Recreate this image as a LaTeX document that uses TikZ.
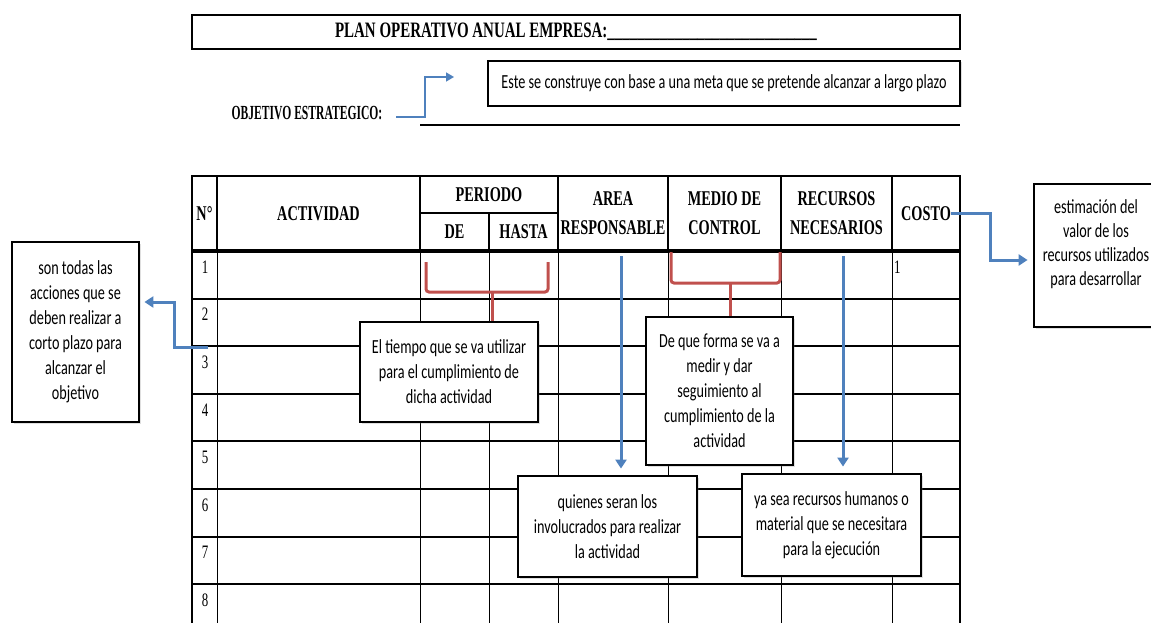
\documentclass[tikz,border=0pt]{standalone}
\usepackage{fontspec}
\newfontfamily\boxfont[FakeStretch=0.71]{Carlito}
\newfontfamily\tabfont[FakeStretch=0.68]{Liberation Serif}
\newfontfamily\objfont[FakeStretch=0.58]{Liberation Serif}
\usetikzlibrary{arrows,arrows.meta,shadows,calc}

\definecolor{noteblue}{RGB}{79,129,189}
\definecolor{bracered}{RGB}{192,80,77}

\tikzset{
  notebox/.style={draw, line width=2.8pt, fill=white, align=center, inner sep=0pt,
    font=\boxfont\fontsize{20}{25}\selectfont,
    drop shadow={opacity=0.25, shadow xshift=1.5pt, shadow yshift=-1.5pt}},
  headtext/.style={font=\tabfont\bfseries\fontsize{21}{29}\selectfont, align=center, inner sep=0pt},
  numtext/.style={font=\tabfont\fontsize{19}{22}\selectfont, inner sep=0pt},
  notearrow/.style={-{Triangle[length=9pt,width=11pt]}, draw=noteblue, line width=3pt},
  bracket/.style={draw=bracered, line width=3pt, rounded corners=3pt},
}

\begin{document}
\begin{tikzpicture}[x=1pt,y=-1pt]
\useasboundingbox (0,0) rectangle (1151,623);
\clip (0,0) rectangle (1151,623);
%
% title and objective
\node[draw, line width=2.8pt, minimum width=768pt, minimum height=34pt, inner sep=0pt,
      font=\tabfont\bfseries\fontsize{22}{24}\selectfont] (title) at (576,32)
      {PLAN OPERATIVO ANUAL EMPRESA:\_\_\_\_\_\_\_\_\_\_\_\_\_\_\_\_\_\_\_\_\_\_\_\_\_\_\_\_};
\node[font=\objfont\bfseries\fontsize{20}{22}\selectfont, inner sep=0pt] (objlabel) at (307,113) {OBJETIVO ESTRATEGICO:};
\draw[line width=1.8pt] (420,125) -- (960,125);
\node[notebox, minimum width=472pt, minimum height=45pt] (meta) at (724,83.5)
      {Este se construye con base a una meta que se pretende alcanzar a largo plazo};
% objective arrow
\coordinate (objstart) at (396,117);
\coordinate (objtip) at (454,77);
\draw[notearrow, line width=1.6pt, -{Triangle[length=8pt,width=9pt]}] (objstart) -- ++(29,0) |- (objtip);
%
% table frame
\draw[line width=2.8pt] (192,176) rectangle (960,640);
% header lines
\foreach \x in {217,420,558,668,781,892}
   \draw[line width=1.6pt] (\x,176) -- (\x,251);
\draw[line width=1.6pt] (420,213) -- (558,213);
\draw[line width=1.6pt] (489,213) -- (489,251);
\draw[line width=3.4pt] (192,251) -- (960,251);
% body lines
\foreach \x in {217,420,489,558,668,781,892}
   \draw[line width=1pt] (\x,251) -- (\x,640);
\foreach \i in {1,...,8}{
   \draw[line width=2pt] (192,{251+47.6*\i}) -- (960,{251+47.6*\i});
   \node[numtext] (num\i) at (205,{267+47.6*(\i-1)}) {\i};
}
\node[numtext, anchor=west] (numcosto) at (894,267) {1};
% header texts
\node[headtext] (hdrnum)   at (204.5,213.5) {N°};
\node[headtext] (hdract)   at (318.5,213.5) {ACTIVIDAD};
\node[headtext] (hdrper)   at (489,194.5)   {PERIODO};
\node[headtext] (hdrde)    at (454.5,232)   {DE};
\node[headtext] (hdrhasta) at (523.5,232)   {HASTA};
\node[headtext] (hdrarea)  at (613,213.5)   {AREA\\RESPONSABLE};
\node[headtext] (hdrmedio) at (724.5,213.5) {MEDIO DE\\CONTROL};
\node[headtext] (hdrrec)   at (836.5,213.5) {RECURSOS\\NECESARIOS};
\node[headtext] (hdrcosto) at (926,213.5)   {COSTO};
%
% brackets
\coordinate (permid) at (492,292);
\draw[bracket] (426,262) |- (548,292) -- (548,262);
\coordinate (medmid) at (730,283);
\draw[bracket] (671,252) |- (780,283) -- (780,252);
% arrow starts
\coordinate (areatop) at (621,256);
\coordinate (rectop) at (843,256);
\coordinate (actstart) at (208,347);
%
% note boxes
\node[notebox, minimum width=178pt, minimum height=100pt] (tiempobox) at (449,372)
      {El tiempo que se va utilizar\\para el cumplimiento de\\dicha actividad};
\node[notebox, minimum width=147pt, minimum height=148pt] (formabox) at (719.5,391)
      {De que forma se va a\\medir y dar\\seguimiento al\\cumplimiento de la\\actividad};
\node[notebox, minimum width=179pt, minimum height=101pt] (quienesbox) at (607.5,526.5)
      {quienes seran los\\involucrados para realizar\\la actividad};
\node[notebox, minimum width=179pt, minimum height=102pt] (recursosbox) at (831.5,525)
      {ya sea recursos humanos o\\material que se necesitara\\para la ejecución};
\node[notebox, minimum width=127pt, minimum height=180pt] (accionbox) at (75.5,332)
      {son todas las\\acciones que se\\deben realizar a\\corto plazo para\\alcanzar el\\objetivo};
\node[notebox, minimum width=124pt, minimum height=143pt] (costobox) at (1096,255.5) {};
\node[font=\boxfont\fontsize{20}{24}\selectfont, align=center, inner sep=0pt] (costotext)
      at ([yshift=11.5pt]costobox.center)
      {estimación del\\valor de los\\recursos utilizados\\para desarrollar};
%
% connectors
\draw[bracket] (permid) -- (permid |- tiempobox.north);
\draw[bracket] (medmid) -- (medmid |- formabox.north);
\draw[notearrow, shorten >=6pt] (areatop) -- (areatop |- quienesbox.north);
\draw[notearrow, shorten >=6pt] (rectop) -- (rectop |- recursosbox.north);
\draw[notearrow, shorten >=4pt] (actstart) -- ++(-34,0) |- ([yshift=30pt]accionbox.east);
\draw[notearrow, shorten >=5pt] (hdrcosto.east) -- ++(39,0) |- ([yshift=-4.5pt]costobox.west);
\end{tikzpicture}
\end{document}
